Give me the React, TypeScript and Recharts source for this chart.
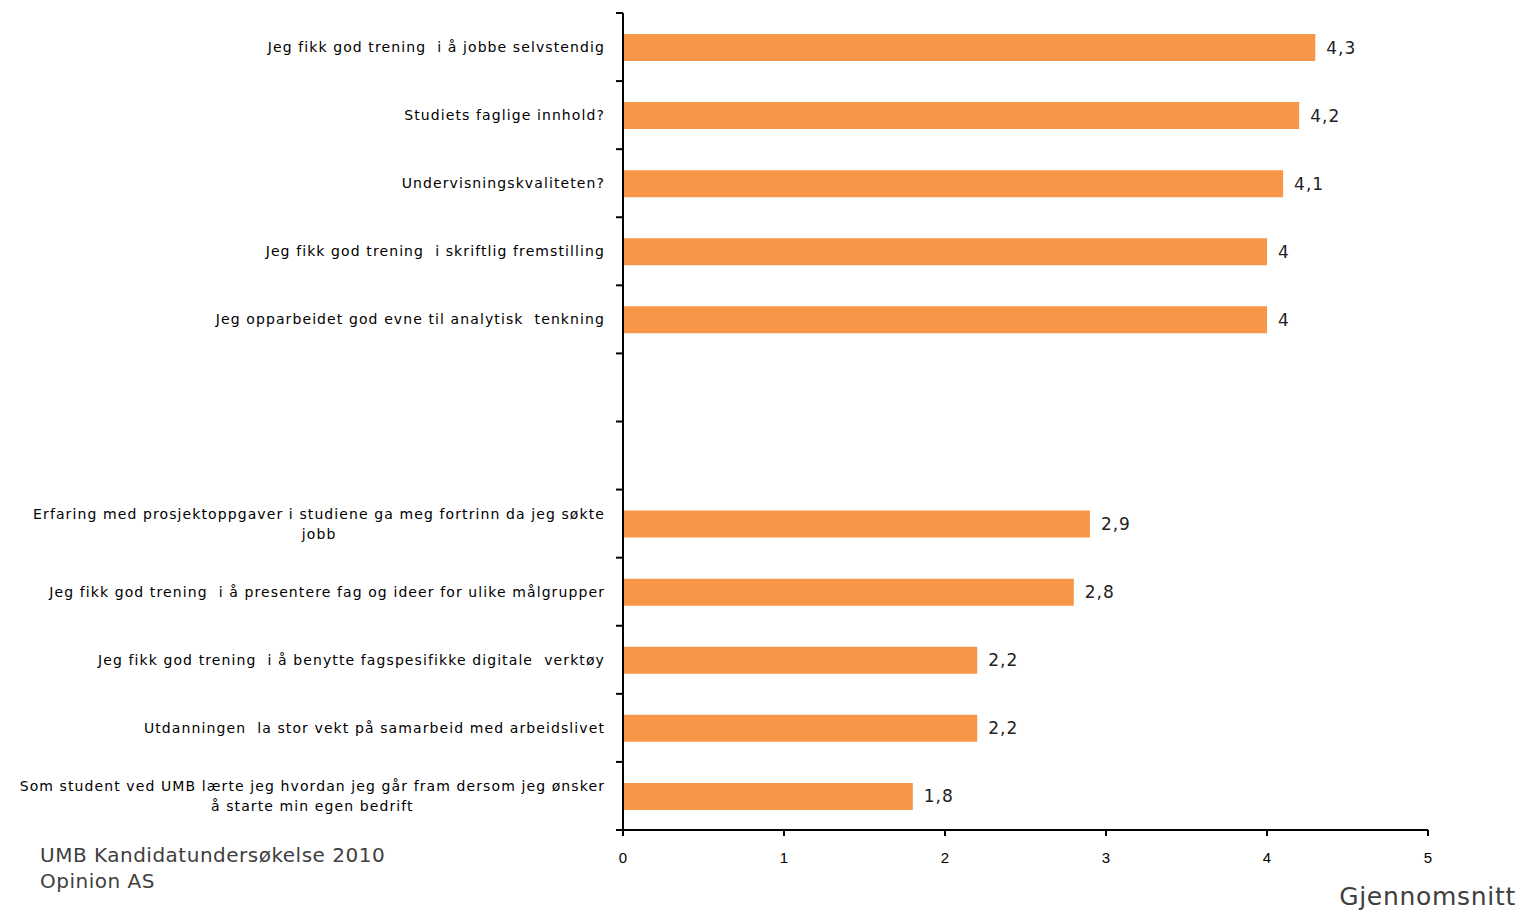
import { BarChart, Bar, XAxis, YAxis, LabelList } from 'recharts'

const BAR_COLOR = '#F79646'
const AXIS_COLOR = '#000000'
const TEXT_DARK = '#404040'

const categories = [
  'Jeg fikk god trening  i å jobbe selvstendig',
  'Studiets faglige innhold?',
  'Undervisningskvaliteten?',
  'Jeg fikk god trening  i skriftlig fremstilling',
  'Jeg opparbeidet god evne til analytisk  tenkning',
  '',
  '',
  'Erfaring med prosjektoppgaver i studiene ga meg fortrinn da jeg søkte\njobb',
  'Jeg fikk god trening  i å presentere fag og ideer for ulike målgrupper',
  'Jeg fikk god trening  i å benytte fagspesifikke digitale  verktøy',
  'Utdanningen  la stor vekt på samarbeid med arbeidslivet',
  'Som student ved UMB lærte jeg hvordan jeg går fram dersom jeg ønsker\nå starte min egen bedrift',
]

const values: (number | null)[] = [4.3, 4.2, 4.1, 4.0, 4.0, null, null, 2.9, 2.8, 2.2, 2.2, 1.8]

const xTicks = [0, 1, 2, 3, 4, 5]

const data = categories.map((name, i) => ({ key: `c${i}`, name, value: values[i] }))

function CategoryTick(props: any) {
  const { x, y, payload, index } = props
  const half = payload?.offset ?? 34
  const axisX = x + 18
  const label = categories[index] ?? ''
  const lines = label.split('\n')
  const isLast = index === categories.length - 1
  return (
    <g>
      <line x1={axisX - 7} x2={axisX} y1={y - half} y2={y - half} stroke={AXIS_COLOR} strokeWidth={2} />
      {isLast && (
        <line x1={axisX - 7} x2={axisX} y1={y + half} y2={y + half} stroke={AXIS_COLOR} strokeWidth={2} />
      )}
      {label && (
        <foreignObject x={0} y={y - 25} width={x} height={50}>
          <div
            style={{
              display: 'flex',
              height: '100%',
              alignItems: 'center',
              justifyContent: 'flex-end',
            }}
          >
            <div
              style={{
                textAlign: 'center',
                fontFamily: '"DejaVu Sans", Verdana, sans-serif',
                fontSize: 14,
                letterSpacing: 1.1,
                lineHeight: '20px',
                color: '#000',
                whiteSpace: 'pre',
              }}
            >
              {lines.map((l, j) => (
                <div key={j}>{l}</div>
              ))}
            </div>
          </div>
        </foreignObject>
      )}
    </g>
  )
}

function ValueTick(props: any) {
  const { x, y, payload } = props
  return (
    <text
      x={x}
      y={y}
      dy={15}
      textAnchor="middle"
      style={{ fontSize: 15, fontFamily: '"Liberation Sans", Arial, sans-serif' }}
      fill="#000"
    >
      {payload.value}
    </text>
  )
}

export default function App() {
  return (
    <div style={{ position: 'absolute', left: 0, top: 0, width: 1523, height: 914, background: '#fff' }}>
      <BarChart
        width={1523}
        height={914}
        data={data}
        layout="vertical"
        margin={{ top: 13, right: 95, bottom: 0, left: 0 }}
      >
        <XAxis
          type="number"
          domain={[0, 5]}
          ticks={xTicks}
          interval={0}
          axisLine={{ stroke: AXIS_COLOR, strokeWidth: 2 }}
          tickLine={{ stroke: AXIS_COLOR, strokeWidth: 2 }}
          tickSize={6}
          tickMargin={12}
          tick={<ValueTick />}
          height={84}
        />
        <YAxis
          type="category"
          dataKey="key"
          width={623}
          interval={0}
          axisLine={{ stroke: AXIS_COLOR, strokeWidth: 2 }}
          tickLine={false}
          tickSize={6}
          tickMargin={12}
          tick={<CategoryTick />}
        />
        <Bar dataKey="value" fill={BAR_COLOR} barSize={27} isAnimationActive={false}>
          <LabelList
            dataKey="value"
            position="right"
            offset={11}
            formatter={(v: any) => (v == null ? '' : String(v).replace('.', ','))}
            style={{ fontSize: 17, fill: '#222', fontFamily: '"DejaVu Sans", Verdana, sans-serif', letterSpacing: 1 }}
          />
        </Bar>
      </BarChart>
      <div
        style={{
          position: 'absolute',
          left: 40,
          top: 842,
          fontFamily: '"DejaVu Sans", Verdana, sans-serif',
          fontSize: 20,
          letterSpacing: 0.5,
          lineHeight: '26px',
          color: TEXT_DARK,
        }}
      >
        <div>UMB Kandidatundersøkelse 2010</div>
        <div>Opinion AS</div>
      </div>
      <div
        style={{
          position: 'absolute',
          right: 7,
          top: 882,
          fontFamily: '"DejaVu Sans", Verdana, sans-serif',
          fontSize: 25,
          letterSpacing: 0.7,
          color: TEXT_DARK,
        }}
      >
        Gjennomsnitt
      </div>
    </div>
  )
}
